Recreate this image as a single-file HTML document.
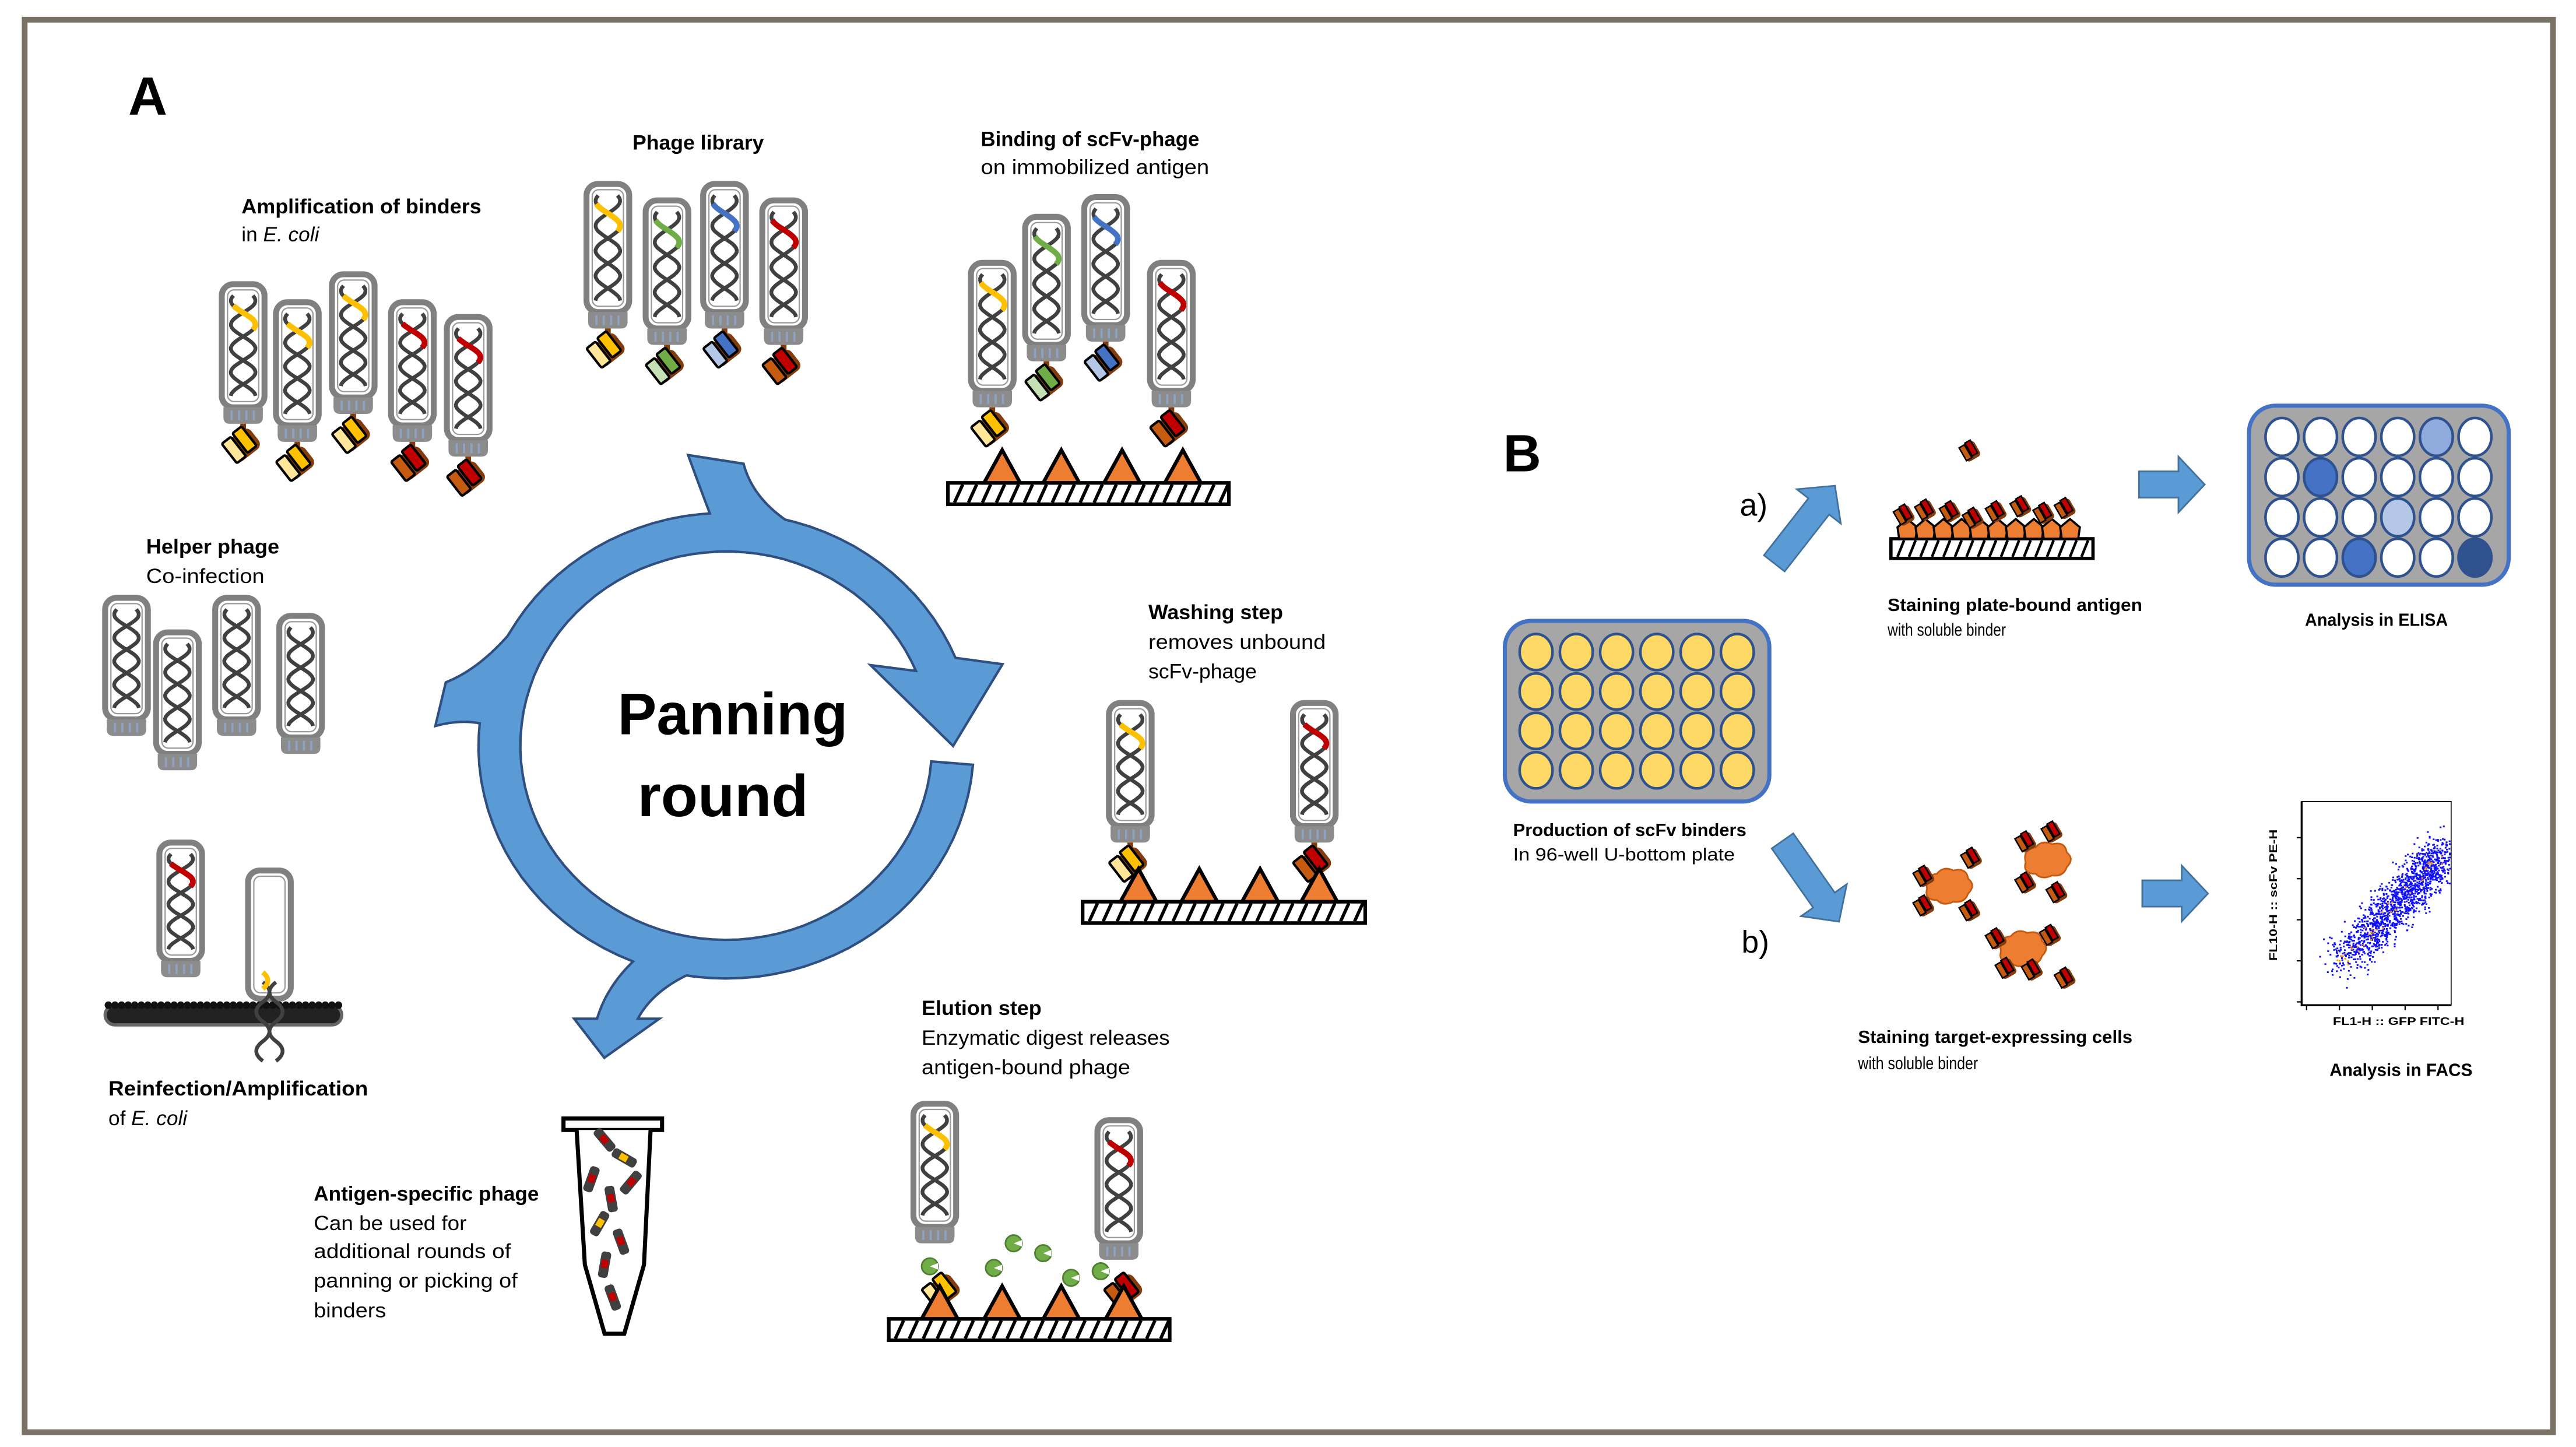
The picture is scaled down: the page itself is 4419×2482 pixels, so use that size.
<!DOCTYPE html>
<html><head><meta charset="utf-8"><style>
html,body{margin:0;padding:0;background:#fff;}
svg{display:block;}
text{font-family:"Liberation Sans",sans-serif;fill:#000;}
.b{font-weight:bold;}
</style></head><body>
<svg id="s" width="4419" height="2482" viewBox="0 0 1568 881" preserveAspectRatio="none" xmlns="http://www.w3.org/2000/svg">
<rect x="0" y="0" width="1568" height="881" fill="#fff"/>
<rect x="15" y="12" width="1539" height="860" fill="none" stroke="#7a7264" stroke-width="3.5"/>
<g id="g"></g>
<text x="78" y="70" class="b" font-size="33">A</text>
<text x="915" y="287" class="b" font-size="32">B</text>
<text x="446" y="447" class="b" font-size="36" text-anchor="middle" textLength="140" lengthAdjust="spacingAndGlyphs">Panning</text>
<text x="440" y="497" class="b" font-size="36" text-anchor="middle" textLength="104" lengthAdjust="spacingAndGlyphs">round</text>
<g font-size="12.5">
<text x="385" y="91" class="b" textLength="80" lengthAdjust="spacingAndGlyphs">Phage library</text>
<text x="147" y="130" class="b" textLength="146" lengthAdjust="spacingAndGlyphs">Amplification of binders</text>
<text x="147" y="147">in <tspan font-style="italic">E. coli</tspan></text>
<text x="597" y="89" class="b" textLength="133" lengthAdjust="spacingAndGlyphs">Binding of scFv-phage</text>
<text x="597" y="106" textLength="139" lengthAdjust="spacingAndGlyphs">on immobilized antigen</text>
<text x="89" y="337" class="b" textLength="81" lengthAdjust="spacingAndGlyphs">Helper phage</text>
<text x="89" y="355" textLength="72" lengthAdjust="spacingAndGlyphs">Co-infection</text>
<text x="699" y="377" class="b" textLength="82" lengthAdjust="spacingAndGlyphs">Washing step</text>
<text x="699" y="395" textLength="108" lengthAdjust="spacingAndGlyphs">removes unbound</text>
<text x="699" y="413" textLength="66" lengthAdjust="spacingAndGlyphs">scFv-phage</text>
<text x="561" y="618" class="b" textLength="73" lengthAdjust="spacingAndGlyphs">Elution step</text>
<text x="561" y="636" textLength="151" lengthAdjust="spacingAndGlyphs">Enzymatic digest releases</text>
<text x="561" y="654" textLength="127" lengthAdjust="spacingAndGlyphs">antigen-bound phage</text>
<text x="66" y="667" class="b" textLength="158" lengthAdjust="spacingAndGlyphs">Reinfection/Amplification</text>
<text x="66" y="685">of <tspan font-style="italic">E. coli</tspan></text>
<text x="191" y="731" class="b" textLength="137" lengthAdjust="spacingAndGlyphs">Antigen-specific phage</text>
<text x="191" y="749" textLength="93" lengthAdjust="spacingAndGlyphs">Can be used for</text>
<text x="191" y="766" textLength="120" lengthAdjust="spacingAndGlyphs">additional rounds of</text>
<text x="191" y="784" textLength="124" lengthAdjust="spacingAndGlyphs">panning or picking of</text>
<text x="191" y="802" textLength="44" lengthAdjust="spacingAndGlyphs">binders</text>
</g>
<g font-size="11">
<text x="1149" y="372" class="b" textLength="155" lengthAdjust="spacingAndGlyphs">Staining plate-bound antigen</text>
<text x="1149" y="387" textLength="72" lengthAdjust="spacingAndGlyphs">with soluble binder</text>
<text x="1403" y="381" class="b" textLength="87" lengthAdjust="spacingAndGlyphs">Analysis in ELISA</text>
<text x="921" y="509" class="b" textLength="142" lengthAdjust="spacingAndGlyphs">Production of scFv binders</text>
<text x="921" y="524" textLength="135" lengthAdjust="spacingAndGlyphs">In 96-well U-bottom plate</text>
<text x="1131" y="635" class="b" textLength="167" lengthAdjust="spacingAndGlyphs">Staining target-expressing cells</text>
<text x="1131" y="651" textLength="73" lengthAdjust="spacingAndGlyphs">with soluble binder</text>
<text x="1418" y="655" class="b" textLength="87" lengthAdjust="spacingAndGlyphs">Analysis in FACS</text>
</g>
<text x="1059" y="314" font-size="19">a)</text>
<text x="1060" y="580" font-size="19">b)</text>
<text x="1420" y="624" class="b" font-size="6.5" textLength="80" lengthAdjust="spacingAndGlyphs">FL1-H :: GFP FITC-H</text>
<text x="0" y="0" class="b" font-size="6.5" transform="translate(1386,585) rotate(-90)" textLength="80" lengthAdjust="spacingAndGlyphs">FL10-H :: scFv PE-H</text>
</svg>
<script>
var out=[];
function P(s){out.push(s);}
function helix(x,y,h,col){
  var cx=x+13,A=7.5,top=y+7,bot=y+h-7,n=50,p1=[],p2=[];
  var per=(bot-top)/2.1;
  for(var i=0;i<=n;i++){var yy=top+(bot-top)*i/n;var s=Math.sin(2*Math.PI*(yy-top)/per+0.9);p1.push((cx+A*s).toFixed(1)+','+yy.toFixed(1));p2.push((cx-A*s).toFixed(1)+','+yy.toFixed(1));}
  P('<polyline points="'+p1.join(' ')+'" fill="none" stroke="#404040" stroke-width="2.3"/>');
  P('<polyline points="'+p2.join(' ')+'" fill="none" stroke="#404040" stroke-width="2.3"/>');
  if(col){var seg=[];for(var i=0;i<=n;i++){var yy=top+(bot-top)*i/n;if(yy>top+5&&yy<top+5+per*0.55){var s=Math.sin(2*Math.PI*(yy-top)/per+0.9);seg.push((cx-A*s).toFixed(1)+','+yy.toFixed(1));}}
  P('<polyline points="'+seg.join(' ')+'" fill="none" stroke="'+col+'" stroke-width="3.4"/>');}
}
function scfv(cx,cy,dark,light,ang,sc){
  sc=sc||1;
  P('<g transform="translate('+cx+','+cy+') rotate('+ang+') scale('+sc+')">');
  P('<rect x="-9" y="-7" width="19" height="15" rx="4" fill="#843c0c"/>');
  P('<rect x="-9" y="-8" width="7" height="15" fill="'+light+'" stroke="#000" stroke-width="1.5" rx="1"/>');
  P('<rect x="0" y="-9" width="7" height="15" fill="'+dark+'" stroke="#000" stroke-width="1.5" rx="1"/>');
  P('</g>');
}
function phage(x,y,h,col,dark,light,ang){
  P('<rect x="'+x+'" y="'+y+'" width="26" height="'+h+'" rx="7" fill="#fff" stroke="#808080" stroke-width="3.6"/>');
  P('<rect x="'+(x+3.5)+'" y="'+(y+3.5)+'" width="19" height="'+(h-7)+'" rx="4" fill="none" stroke="#9a9a9a" stroke-width="0.8"/>');
  helix(x,y,h,col);
  P('<path d="M'+(x+1)+','+(y+h)+' h24 v6 q0,4 -4,4 h-16 q-4,0 -4,-4z" fill="#8c8c8c"/>');
  for(var k=0;k<4;k++)P('<line x1="'+(x+6+k*4.5)+'" y1="'+(y+h+2)+'" x2="'+(x+6+k*4.5)+'" y2="'+(y+h+8)+'" stroke="#8ea3c4" stroke-width="1.3"/>');
  if(dark){
    P('<line x1="'+(x+13)+'" y1="'+(y+h+10)+'" x2="'+(x+13)+'" y2="'+(y+h+17)+'" stroke="#843c0c" stroke-width="3.5"/>');
    scfv(x+12,y+h+23,dark,light,ang==null?-38:ang);
  }
}
var Y='#ffc000',YL='#ffe699',G='#70ad47',GL='#c5e0b4',B='#4472c4',BL='#b4c7e7',R='#c00000',RL='#c55a11';
phage(357,112,78,Y,Y,YL);phage(393,122,78,G,G,GL);phage(428,112,78,B,B,BL);phage(464,122,78,R,R,RL);
phage(135,173,75,Y,Y,YL);phage(168,184,75,Y,Y,YL);phage(202,167,75,Y,Y,YL);phage(238,184,75,R,R,RL);phage(272,193,75,R,R,RL);
phage(591,160,78,Y,Y,YL);phage(624,132,78,G,G,GL);phage(660,120,78,B,B,BL);phage(700,160,78,R,R,RL);
phage(64,364,74,null);phage(95,385,74,null);phage(131,364,74,null);phage(170,375,74,null);
phage(675,428,75,Y,Y,YL);phage(787,428,75,R,R,RL);
phage(556,672,75,Y,null);phage(668,682,75,R,null);
scfv(573,786,Y,YL,-38);scfv(684,786,R,RL,-38);
function platform(x1,x2,y,tris){
  P('<rect x="'+x1+'" y="'+y+'" width="'+(x2-x1)+'" height="13" fill="#fff" stroke="#000" stroke-width="2.2"/>');
  for(var xx=x1+4;xx<x2-2;xx+=8.5)P('<line x1="'+xx+'" y1="'+(y+12)+'" x2="'+(xx+5)+'" y2="'+(y+1)+'" stroke="#000" stroke-width="2"/>');
  tris.forEach(function(t){P('<path d="M'+(t-11)+','+y+' L'+t+','+(y-20)+' L'+(t+11)+','+y+'z" fill="#ed7d31" stroke="#000" stroke-width="2.2" stroke-linejoin="miter"/>');});
}
platform(577,748,294,[610,646,683,720]);
platform(659,831,549,[693,730,767,803]);
platform(541,712,803,[572,610,646,684]);
[[566,771],[605,772],[617,757],[635,763],[652,778],[670,774]].forEach(function(c){
 P('<circle cx="'+c[0]+'" cy="'+c[1]+'" r="5" fill="#70ad47" stroke="#507e32" stroke-width="1"/>');
 P('<path d="M'+c[0]+','+c[1]+' l5,-2 l0,4z" fill="#fff"/>');});
phage(97,513,72,R,null);
P('<rect x="151" y="530" width="26" height="78" rx="7" fill="#fff" stroke="#808080" stroke-width="3.6"/>');
P('<rect x="154.5" y="533.5" width="19" height="71" rx="4" fill="none" stroke="#9a9a9a" stroke-width="0.8"/>');
P('<rect x="64" y="612" width="144" height="12" rx="6" fill="#222" stroke="#666" stroke-width="2"/>');
for(var xx=66;xx<208;xx+=4)P('<circle cx="'+xx+'" cy="'+(612+(xx%8?0:12))+'" r="2.3" fill="#111"/>');
P('<path d="M160,598 q8,6 0,12 q-8,6 0,12 q8,6 0,12 q-8,6 0,12" fill="none" stroke="#404040" stroke-width="2.3"/>');
P('<path d="M168,598 q-8,6 0,12 q8,6 0,12 q-8,6 0,12 q8,6 0,12" fill="none" stroke="#404040" stroke-width="2.3"/>');
P('<path d="M160,592 q6,5 0,10" fill="none" stroke="#ffc000" stroke-width="3"/>');
P('<path d="M343,681 h60 v7 h-60z" fill="#fff" stroke="#000" stroke-width="2.5"/>');
P('<path d="M351,688 L356,770 L368,812 L380,812 L392,770 L396,688" fill="#fff" stroke="#000" stroke-width="2.5"/>');
[[368,694,-40,R],[380,705,-60,Y],[360,718,20,R],[372,730,-10,R],[365,745,30,Y],[378,756,-20,R],[368,770,10,R],[373,790,-20,R],[384,720,40,R]].forEach(function(t){
 P('<g transform="translate('+t[0]+','+t[1]+') rotate('+t[2]+')"><rect x="-3" y="-8" width="6" height="16" rx="2" fill="#404040"/><rect x="-2" y="-3" width="4" height="5" fill="'+t[3]+'"/></g>');});
// cycle
var cx=442,cy=454,ox=150,oy=141,ix=126,iy=119;
function ep(rx,ry,a){a=a*Math.PI/180;return (cx+rx*Math.cos(a)).toFixed(1)+','+(cy+ry*Math.sin(a)).toFixed(1);}
var a0=5,a1=338,pts=[],n=90,i;
for(i=0;i<=n;i++)pts.push(ep(ox,oy,a0+(a1-a0)*i/n));
pts.push('609,405');pts.push('580,453');pts.push('532,406');
for(i=n;i>=0;i--)pts.push(ep(ix,iy,a0+(a1-a0)*i/n));
var ring='<polygon points="'+pts.join(' ')+'"';
var br=[
 '<path d="M420,278 L452,283 Q458,305 482,320 L438,326 Q428,300 420,278 Z"',
 '<path d="M266,441 L272,416 Q292,408 311,386 L300,442 Q285,436 266,441 Z"',
 '<path d="M389,583 Q370,600 364,621 L351,621 L368,643 L399,621 L387,621 Q396,603 420,592 Z"'
];
var shapes=[ring].concat(br);
shapes.forEach(function(s){P(s+' fill="#5b9bd5" stroke="#2f4f80" stroke-width="3" stroke-linejoin="miter"/>');});
shapes.forEach(function(s){P(s+' fill="#5b9bd5" stroke="none"/>');});
// B plates
P('<rect x="916" y="378" width="161" height="110" rx="16" fill="#a6a6a6" stroke="#4472c4" stroke-width="2.5"/>');
for(var j=0;j<4;j++)for(var i=0;i<6;i++)P('<ellipse cx="'+(935+24.5*i)+'" cy="'+(397+24*j)+'" rx="10" ry="11" fill="#ffd966" stroke="#2f528f" stroke-width="1.6"/>');
var ec={'4,0':'#8faadc','1,1':'#4472c4','3,2':'#b4c7e7','2,3':'#4472c4','5,3':'#2f528f'};
P('<rect x="1369" y="247" width="158" height="109" rx="16" fill="#a6a6a6" stroke="#4472c4" stroke-width="2.5"/>');
for(var j=0;j<4;j++)for(var i=0;i<6;i++)P('<ellipse cx="'+(1389+23.5*i)+'" cy="'+(266+24.5*j)+'" rx="10" ry="11.5" fill="'+(ec[i+','+j]||'#fff')+'" stroke="#2f528f" stroke-width="1.6"/>');
function barrow(x,y,ang,len){
  P('<g transform="translate('+x+','+y+') rotate('+ang+')"><path d="M0,-8 H'+(len-16)+' V-17 L'+len+',0 L'+(len-16)+',17 V8 H0z" fill="#5b9bd5" stroke="#41719c" stroke-width="1"/></g>');
}
barrow(1302,295,0,40);barrow(1304,544,0,40);
barrow(1080,343,-52,60);barrow(1085,512,55,60);
function mini(x,y,ang){P('<g transform="translate('+x+','+y+') rotate('+ang+') scale(0.75)"><rect x="-6" y="-7" width="13" height="14" rx="3" fill="#843c0c"/><rect x="-6" y="-7" width="5" height="12" fill="#c55a11" stroke="#000" stroke-width="1.2"/><rect x="0" y="-8" width="5" height="12" fill="#c00000" stroke="#000" stroke-width="1.2"/></g>');}
mini(1199,275,-30);
P('<rect x="1151" y="328" width="123" height="12" fill="#fff" stroke="#000" stroke-width="2"/>');
for(var xx=1155;xx<1272;xx+=7)P('<line x1="'+xx+'" y1="339" x2="'+(xx+4)+'" y2="329" stroke="#000" stroke-width="1.6"/>');
for(var k=0;k<10;k++){var px=1161+k*11;P('<path d="M'+(px-5)+',328 L'+(px-6)+',321 L'+px+',316 L'+(px+6)+',321 L'+(px+5)+',328z" fill="#ed7d31" stroke="#000" stroke-width="1.3"/>');}
[[1159,314],[1172,311],[1187,312],[1201,316],[1215,312],[1230,309],[1244,313],[1257,310]].forEach(function(p){mini(p[0],p[1],-30);});
function cell(x,y){P('<path d="M'+(x-12)+','+y+' q-2,-8 6,-9 q4,-5 10,-2 q8,-2 9,5 q5,4 0,9 q-2,6 -9,5 q-6,3 -10,-1 q-8,0 -6,-7z" fill="#ed7d31" stroke="#c55a11" stroke-width="1"/>');}
cell(1185,541);cell(1245,525);cell(1230,579);
[[1171,534,-30],[1200,523,-30],[1171,552,-30],[1199,555,-30],[1233,513,-30],[1249,507,-30],[1233,538,-30],[1252,544,-30],[1248,570,-30],[1215,572,-30],[1221,590,-30],[1237,591,-30],[1257,596,-30]].forEach(function(p){mini(p[0],p[1],p[2]);});
// FACS
P('<path d="M1401,488 V612 H1492 V488 Z" fill="#fff" stroke="#000" stroke-width="0.6"/>');
P('<path d="M1401,488 V612 H1492" fill="none" stroke="#000" stroke-width="1.2"/>');
for(var k=0;k<5;k++){P('<line x1="1398" y1="'+(510+k*25)+'" x2="1401" y2="'+(510+k*25)+'" stroke="#000" stroke-width="0.8"/>');P('<line x1="'+(1404+k*20)+'" y1="612" x2="'+(1404+k*20)+'" y2="615" stroke="#000" stroke-width="0.8"/>');}
var seed=7;function rnd(){seed=(seed*16807)%2147483647;return seed/2147483647;}
var d=[];
for(var k=0;k<1500;k++){var t=Math.pow(rnd(),0.75);var gx=(rnd()+rnd()+rnd()-1.5)*13;var gy=(rnd()+rnd()+rnd()-1.5)*13;var x=1424+t*62+gx,y=588-t*68+gy;if(x<1403||x>1491||y<490||y>610)continue;d.push('M'+x.toFixed(1)+','+y.toFixed(1)+'h1.1');}
P('<path d="'+d.join('')+'" stroke="#1010ff" stroke-width="1" fill="none"/>');
var d2=[];for(var k=0;k<40;k++){var t=rnd();d2.push('M'+(1424+t*60+(rnd()-.5)*8).toFixed(1)+','+(588-t*66+(rnd()-.5)*8).toFixed(1)+'h1.1');}
P('<path d="'+d2.join('')+'" stroke="#ff9900" stroke-width="1" fill="none"/>');
document.getElementById('g').innerHTML=out.join('');
</script>
</body></html>
